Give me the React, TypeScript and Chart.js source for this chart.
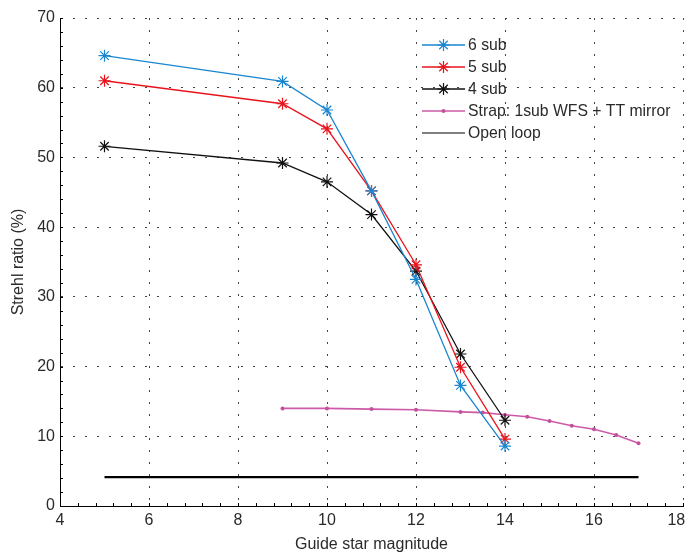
import React, { useEffect, useRef } from "react";
import { Chart, registerables } from "chart.js";

Chart.register(...registerables);

const magnitudes = [5, 9, 10, 11, 12, 13, 14];
const sub6 = [64.6, 60.9, 56.8, 45.2, 32.5, 17.3, 8.6];
const sub5 = [61.0, 57.7, 54.1, 45.2, 34.6, 19.9, 9.6];
const sub4 = [51.6, 49.2, 46.5, 41.8, 33.7, 21.8, 12.3];
const strapMag = [9, 10, 11, 12, 13, 13.5, 14, 14.5, 15, 15.5, 16, 16.5, 17];
const strapVal = [14.0, 14.0, 13.9, 13.8, 13.5, 13.4, 13.1, 12.8, 12.2, 11.5, 11.0, 10.2, 9.0];
const openLoopMag = [5, 17];
const openLoopVal = [4.15, 4.15];
const seriesNames = ["6 sub", "5 sub", "4 sub", "Strap: 1sub WFS + TT mirror", "Open loop"];
const xTicks = [4, 6, 8, 10, 12, 14, 16, 18];
const yTicks = [0, 10, 20, 30, 40, 50, 60, 70];

const FONT = "'Liberation Sans', Arial, sans-serif";
const TEXT = "#2a2a2a";

const pts = (xs: number[], ys: number[]) => xs.map((x, i) => ({ x, y: ys[i] }));

const minorTicks = {
  id: "minorTicks",
  afterDatasetsDraw(chart: any) {
    const { ctx, chartArea, scales } = chart;
    const xs = scales.x;
    const ys = scales.y;
    ctx.save();
    ctx.strokeStyle = "#000";
    ctx.lineWidth = 1;
    ctx.beginPath();
    for (let v = 4; v <= 18.0001; v += 0.4) {
      const px = Math.round(xs.getPixelForValue(v)) + 0.5;
      ctx.moveTo(px, chartArea.bottom);
      ctx.lineTo(px, chartArea.bottom - 3);
    }
    for (let v = 0; v <= 70.0001; v += 2) {
      const py = Math.round(ys.getPixelForValue(v)) + 0.5;
      ctx.moveTo(chartArea.left, py);
      ctx.lineTo(chartArea.left + 3, py);
    }
    ctx.stroke();
    ctx.restore();
  },
};

function drawStar(ctx: CanvasRenderingContext2D, x: number, y: number, r: number) {
  ctx.beginPath();
  ctx.moveTo(x - r, y); ctx.lineTo(x + r, y);
  ctx.moveTo(x, y - r); ctx.lineTo(x, y + r);
  const d = r * 0.7071;
  ctx.moveTo(x - d, y - d); ctx.lineTo(x + d, y + d);
  ctx.moveTo(x - d, y + d); ctx.lineTo(x + d, y - d);
  ctx.stroke();
}

const customLegend = {
  id: "customLegend",
  afterDatasetsDraw(chart: any) {
    const { ctx } = chart;
    const x0 = 422;
    const x1 = 465;
    const tx = 468;
    const rows = [45, 67, 89, 111, 133];
    ctx.save();
    ctx.font = `15.75px ${FONT}`;
    ctx.textBaseline = "middle";
    chart.data.datasets.forEach((ds: any, i: number) => {
      const y = rows[i];
      ctx.strokeStyle = ds.borderColor;
      ctx.lineWidth = i === 4 ? 1.2 : ds.borderWidth;
      ctx.setLineDash([]);
      ctx.beginPath();
      ctx.moveTo(x0, y);
      ctx.lineTo(x1, y);
      ctx.stroke();
      const cx = (x0 + x1) / 2;
      if (ds.pointStyle === "star") {
        ctx.lineWidth = ds.pointBorderWidth;
        drawStar(ctx, cx, y, ds.pointRadius);
      } else if (ds.pointStyle === "circle") {
        ctx.fillStyle = ds.backgroundColor;
        ctx.beginPath();
        ctx.arc(cx, y, ds.pointRadius, 0, Math.PI * 2);
        ctx.fill();
      }
      ctx.fillStyle = TEXT;
      ctx.fillText(ds.label, tx, y + 1);
    });
    ctx.restore();
  },
};

export default function App() {
  const ref = useRef<HTMLCanvasElement>(null);
  useEffect(() => {
    document.body.style.margin = "0";
    const canvas = ref.current!;
    const star = (color: string) => ({
      borderColor: color,
      backgroundColor: color,
      pointStyle: "star",
      pointRadius: 6,
      pointBorderWidth: 1.2,
      pointBorderColor: color,
      borderWidth: 1.3,
      showLine: true,
    });
    const chart = new Chart(canvas, {
      type: "scatter",
      data: {
        datasets: [
          { label: seriesNames[0], data: pts(magnitudes, sub6), ...star("#1a86d0") },
          { label: seriesNames[1], data: pts(magnitudes, sub5), ...star("#e8131c") },
          { label: seriesNames[2], data: pts(magnitudes, sub4), ...star("#111111") },
          {
            label: seriesNames[3],
            data: pts(strapMag, strapVal),
            borderColor: "#cc5aa6",
            backgroundColor: "#c4509c",
            pointStyle: "circle",
            pointRadius: 2,
            pointBorderWidth: 0,
            borderWidth: 1.6,
            showLine: true,
          },
          {
            label: seriesNames[4],
            data: pts(openLoopMag, openLoopVal),
            borderColor: "#000000",
            backgroundColor: "#000000",
            pointRadius: 0,
            borderWidth: 2.2,
            showLine: true,
          },
        ],
      } as any,
      plugins: [minorTicks, customLegend],
      options: {
        animation: false,
        responsive: false,
        events: [],
        layout: { autoPadding: false, padding: { top: 18, right: 4, left: 0, bottom: 0 } },
        plugins: { legend: { display: false }, tooltip: { enabled: false } },
        scales: {
          x: {
            type: "linear",
            min: 4,
            max: 18,
            afterBuildTicks: (s: any) => { s.ticks = xTicks.map((v) => ({ value: v })); },
            afterFit: (s: any) => { s.height = 48; s.paddingLeft = 0; s.paddingRight = 0; },
            grid: { color: "#444", lineWidth: 1, drawTicks: false },
            border: { display: true, color: "#000", width: 1, dash: [2, 10] },
            ticks: {
              color: TEXT,
              font: { family: FONT, size: 16 },
              padding: 5,
              maxRotation: 0,
              callback: (v: number) => (v === 18 ? "18   " : String(v)),
            },
            title: { display: true, text: "Guide star magnitude", color: TEXT, font: { family: FONT, size: 16 }, padding: { top: 0, bottom: 0 } },
          },
          y: {
            type: "linear",
            min: 0,
            max: 70,
            afterBuildTicks: (s: any) => { s.ticks = yTicks.map((v) => ({ value: v })); },
            afterFit: (s: any) => { s.width = 60; s.paddingTop = 0; s.paddingBottom = 0; },
            grid: { color: "#444", lineWidth: 1, drawTicks: false },
            border: { display: true, color: "#000", width: 1, dash: [2, 10] },
            ticks: { color: TEXT, font: { family: FONT, size: 16 }, padding: 5 },
            title: { display: true, text: "Strehl ratio (%)", color: TEXT, font: { family: FONT, size: 16 }, padding: { top: 9, bottom: 0 } },
          },
        },
      } as any,
    });
    return () => chart.destroy();
  }, []);
  return (
    <div style={{ width: 687, height: 554 }}>
      <canvas ref={ref} width={687} height={554} style={{ display: "block", width: 687, height: 554 }} />
    </div>
  );
}
